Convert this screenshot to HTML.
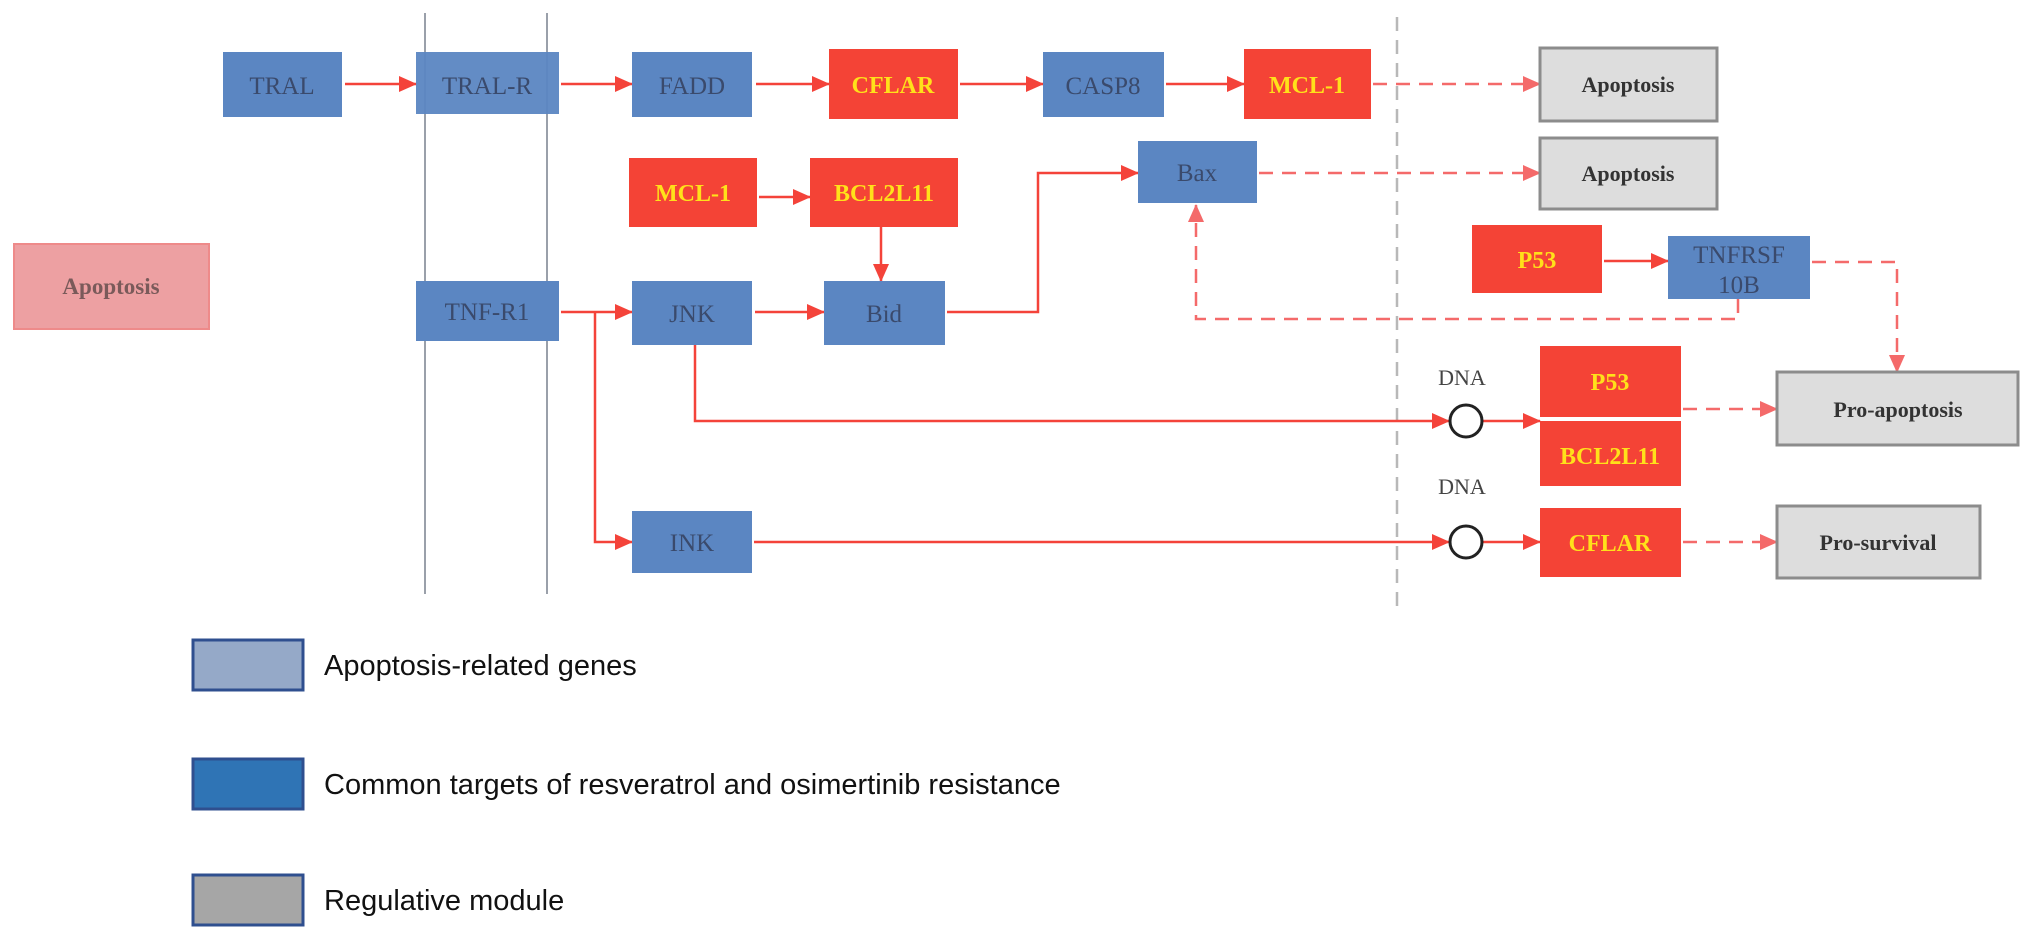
<!DOCTYPE html>
<html><head><style>
html,body{margin:0;padding:0;background:#fff;}
svg{display:block;}
.b{fill:#5b86c2;}
.r{fill:#f44336;}
.g{fill:#dddddd;stroke:#8c8c8c;stroke-width:3;}
.tb{font-family:"Liberation Serif",serif;font-size:25px;fill:#3a4a6c;text-anchor:middle;}
.tr{font-family:"Liberation Serif",serif;font-size:24px;font-weight:bold;fill:#ffe11a;text-anchor:middle;}
.tg{font-family:"Liberation Serif",serif;font-size:22px;font-weight:bold;fill:#333;text-anchor:middle;}
.ln{stroke:#f4433a;stroke-width:2.5;fill:none;}
.dl{stroke:#f46a6a;stroke-width:2.5;fill:none;stroke-dasharray:14 9;}
.lg{font-family:"Liberation Sans",sans-serif;font-size:29px;fill:#111;}
</style></head><body>
<svg width="2032" height="938" viewBox="0 0 2032 938" xmlns="http://www.w3.org/2000/svg">
<defs>
<marker id="a" markerWidth="10" markerHeight="10" refX="9" refY="5" orient="auto" markerUnits="userSpaceOnUse"><path d="M0,0 L12,5 L0,10 z" fill="#f4433a" transform="scale(0.85,1)"/></marker>
<marker id="ah" markerWidth="18" markerHeight="16" refX="17" refY="8" orient="auto" markerUnits="userSpaceOnUse"><path d="M0,0 L18,8 L0,16 z" fill="#f4433a"/></marker>
<marker id="ad" markerWidth="18" markerHeight="16" refX="17" refY="8" orient="auto" markerUnits="userSpaceOnUse"><path d="M0,0 L18,8 L0,16 z" fill="#f46a6a"/></marker>
</defs>
<!-- vertical lines -->
<line x1="425" y1="13" x2="425" y2="594" stroke="#9aa0aa" stroke-width="2"/>
<line x1="547" y1="13" x2="547" y2="594" stroke="#9aa0aa" stroke-width="2"/>
<line x1="1397" y1="17" x2="1397" y2="609" stroke="#b8b8b8" stroke-width="2.5" stroke-dasharray="14 9"/>

<!-- connectors -->
<line class="ln" x1="345" y1="84" x2="416" y2="84" marker-end="url(#ah)"/>
<line class="ln" x1="561" y1="84" x2="632" y2="84" marker-end="url(#ah)"/>
<line class="ln" x1="756" y1="84" x2="829" y2="84" marker-end="url(#ah)"/>
<line class="ln" x1="960" y1="84" x2="1043" y2="84" marker-end="url(#ah)"/>
<line class="ln" x1="1166" y1="84" x2="1244" y2="84" marker-end="url(#ah)"/>
<line class="dl" x1="1373" y1="84" x2="1540" y2="84" marker-end="url(#ad)"/>
<line class="ln" x1="759" y1="197" x2="810" y2="197" marker-end="url(#ah)"/>
<line class="ln" x1="881" y1="227" x2="881" y2="281" marker-end="url(#ah)"/>
<line class="ln" x1="561" y1="312" x2="632" y2="312" marker-end="url(#ah)"/>
<line class="ln" x1="755" y1="312" x2="824" y2="312" marker-end="url(#ah)"/>
<polyline class="ln" points="947,312 1038,312 1038,173 1138,173" marker-end="url(#ah)"/>
<line class="dl" x1="1259" y1="173" x2="1540" y2="173" marker-end="url(#ad)"/>
<polyline class="ln" points="595,312 595,542 632,542" marker-end="url(#ah)"/>
<polyline class="ln" points="695,345 695,421 1449,421" marker-end="url(#ah)"/>
<line class="ln" x1="1483" y1="421" x2="1540" y2="421" marker-end="url(#ah)"/>
<line class="ln" x1="754" y1="542" x2="1449" y2="542" marker-end="url(#ah)"/>
<line class="ln" x1="1483" y1="542" x2="1540" y2="542" marker-end="url(#ah)"/>
<line class="ln" x1="1604" y1="261" x2="1668" y2="261" marker-end="url(#ah)"/>
<polyline class="dl" points="1738,299 1738,319 1196,319 1196,205" marker-end="url(#ad)"/>
<polyline class="dl" points="1812,262 1897,262 1897,372" marker-end="url(#ad)"/>
<line class="dl" x1="1683" y1="409" x2="1777" y2="409" marker-end="url(#ad)"/>
<line class="dl" x1="1683" y1="542" x2="1777" y2="542" marker-end="url(#ad)"/>

<!-- DNA -->
<circle cx="1466" cy="421" r="16" fill="#fff" stroke="#222" stroke-width="3"/>
<circle cx="1466" cy="542" r="16" fill="#fff" stroke="#222" stroke-width="3"/>
<text x="1462" y="385" font-family="Liberation Serif,serif" font-size="22" fill="#444" text-anchor="middle">DNA</text>
<text x="1462" y="494" font-family="Liberation Serif,serif" font-size="22" fill="#444" text-anchor="middle">DNA</text>

<!-- nodes -->
<rect class="b" x="223" y="52" width="119" height="65"/><text class="tb" x="282" y="94">TRAL</text>
<rect class="b" x="416" y="52" width="143" height="62" opacity="0.95"/><text class="tb" x="487" y="94">TRAL-R</text>
<rect class="b" x="632" y="52" width="120" height="65"/><text class="tb" x="692" y="94">FADD</text>
<rect class="r" x="829" y="49" width="129" height="70"/><text class="tr" x="893" y="93">CFLAR</text>
<rect class="b" x="1043" y="52" width="121" height="65"/><text class="tb" x="1103" y="94">CASP8</text>
<rect class="r" x="1244" y="49" width="127" height="70"/><text class="tr" x="1307" y="93">MCL-1</text>
<rect class="g" x="1540" y="48" width="177" height="73"/><text class="tg" x="1628" y="92">Apoptosis</text>
<rect class="g" x="1540" y="138" width="177" height="71"/><text class="tg" x="1628" y="181">Apoptosis</text>
<rect class="r" x="629" y="158" width="128" height="69"/><text class="tr" x="693" y="201">MCL-1</text>
<rect class="r" x="810" y="158" width="148" height="69"/><text class="tr" x="884" y="201">BCL2L11</text>
<rect class="b" x="1138" y="141" width="119" height="62"/><text class="tb" x="1197" y="181">Bax</text>
<rect x="14" y="244" width="195" height="85" fill="#eda0a2" stroke="#ee8a8a" stroke-width="2"/><text x="111" y="294" font-family="Liberation Serif,serif" font-size="23" font-weight="bold" fill="#7a5a5a" text-anchor="middle">Apoptosis</text>
<rect class="b" x="416" y="281" width="143" height="60"/><text class="tb" x="487" y="320">TNF-R1</text>
<rect class="b" x="632" y="281" width="120" height="64"/><text class="tb" x="692" y="322">JNK</text>
<rect class="b" x="824" y="281" width="121" height="64"/><text class="tb" x="884" y="322">Bid</text>
<rect class="r" x="1472" y="225" width="130" height="68"/><text class="tr" x="1537" y="268">P53</text>
<rect class="b" x="1668" y="236" width="142" height="63"/><text class="tb" x="1739" y="263">TNFRSF</text><text class="tb" x="1739" y="293">10B</text>
<rect class="r" x="1540" y="346" width="141" height="71"/><text class="tr" x="1610" y="390">P53</text>
<rect class="r" x="1540" y="421" width="141" height="65"/><text class="tr" x="1610" y="464">BCL2L11</text>
<rect class="g" x="1777" y="372" width="241" height="73"/><text class="tg" x="1898" y="417">Pro-apoptosis</text>
<rect class="b" x="632" y="511" width="120" height="62"/><text class="tb" x="692" y="551">INK</text>
<rect class="r" x="1540" y="508" width="141" height="69"/><text class="tr" x="1610" y="551">CFLAR</text>
<rect class="g" x="1777" y="506" width="203" height="72"/><text class="tg" x="1878" y="550">Pro-survival</text>

<!-- legend -->
<rect x="193" y="640" width="110" height="50" fill="#95a9c8" stroke="#2f4f8f" stroke-width="3"/>
<text class="lg" x="324" y="675">Apoptosis-related genes</text>
<rect x="193" y="759" width="110" height="50" fill="#2f74b5" stroke="#2f4f8f" stroke-width="3"/>
<text class="lg" x="324" y="794">Common targets of resveratrol and osimertinib resistance</text>
<rect x="193" y="875" width="110" height="50" fill="#a6a6a6" stroke="#2f4f8f" stroke-width="3"/>
<text class="lg" x="324" y="910">Regulative module</text>
</svg>
</body></html>
